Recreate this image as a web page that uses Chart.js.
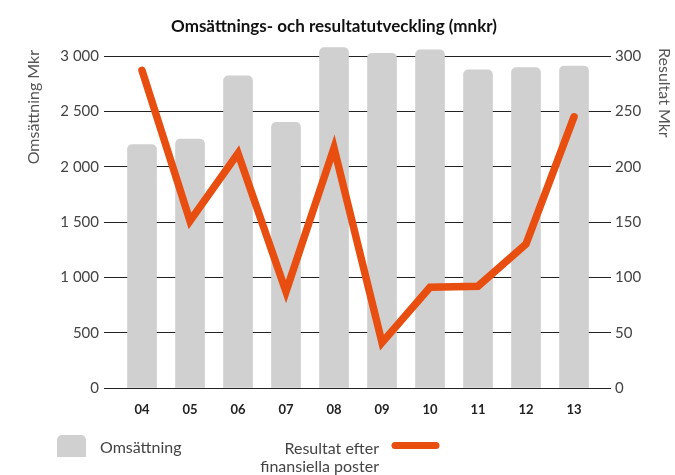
<!DOCTYPE html>
<html><head><meta charset="utf-8">
<script src="https://cdn.jsdelivr.net/npm/chart.js@4.4.1/dist/chart.umd.min.js"></script>
<style>html,body{margin:0;padding:0;background:#fff}#wrap{width:675px;height:475px;position:relative}</style>
</head><body><div id="wrap"><canvas id="c" width="675" height="475"></canvas></div>
<script>
const years = ['04','05','06','07','08','09','10','11','12','13'];
const omsattning = [2200, 2250, 2820, 2400, 3075, 3025, 3055, 2875, 2895, 2910];
const resultat = [287, 151, 212, 87, 217, 41, 91, 92, 130, 245];
const leftTicks = [0, 500, 1000, 1500, 2000, 2500, 3000];
const rightTicks = [0, 50, 100, 150, 200, 250, 300];
const chartTitle = 'Omsättnings- och resultatutveckling (mnkr)';
const leftTitle = 'Omsättning Mkr';
const rightTitle = 'Resultat Mkr';
const legendBar = 'Omsättning';
const legendLine = ['Resultat efter', 'finansiella poster'];

const BAR = '#d0d0d0', LINE = '#e84e10', GRID = '#222', TXT = '#444';
const FONT = 'Lato, "Open Sans", sans-serif';

function fmt(v){ return v >= 1000 ? Math.floor(v/1000) + ' ' + String(v % 1000).padStart(3,'0') : String(v); }

const deco = {
  id: 'deco',
  afterDraw(chart){
    const ctx = chart.ctx;
    ctx.save();
    ctx.fillStyle = '#111';
    ctx.font = 'bold 17px ' + FONT;
    ctx.textAlign = 'center'; ctx.textBaseline = 'middle';
    ctx.fillText(chartTitle, 334, 27);
    ctx.fillStyle = '#555';
    ctx.font = '16px ' + FONT;
    ctx.save(); ctx.translate(34, 50); ctx.rotate(-Math.PI/2);
    ctx.textAlign = 'right'; ctx.fillText(leftTitle, 0, 0); ctx.restore();
    ctx.save(); ctx.translate(664, 48); ctx.rotate(Math.PI/2);
    ctx.textAlign = 'left'; ctx.fillText(rightTitle, 0, 0); ctx.restore();
    // legend
    ctx.fillStyle = BAR;
    ctx.beginPath();
    ctx.roundRect(57, 435, 29, 22, [5,5,0,0]);
    ctx.fill();
    ctx.fillStyle = TXT;
    ctx.font = '16px ' + FONT;
    ctx.textAlign = 'left'; ctx.textBaseline = 'alphabetic';
    ctx.fillText(legendBar, 100, 453);
    ctx.textAlign = 'right';
    ctx.fillText(legendLine[0], 379, 454);
    ctx.fillText(legendLine[1], 379, 472);
    ctx.strokeStyle = LINE; ctx.lineWidth = 7; ctx.lineCap = 'round';
    ctx.beginPath(); ctx.moveTo(395, 445.5); ctx.lineTo(436, 445.5); ctx.stroke();
    ctx.restore();
  }
};

new Chart(document.getElementById('c'), {
  data: {
    labels: years,
    datasets: [
      { type: 'line', label: 'Resultat efter finansiella poster', data: resultat, yAxisID: 'y1',
        borderColor: LINE, borderWidth: 7.5, pointRadius: 0, tension: 0, clip: false,
        borderCapStyle: 'round', borderJoinStyle: 'miter', order: 1 },
      { type: 'bar', label: 'Omsättning', data: omsattning, yAxisID: 'y', clip: false,
        backgroundColor: BAR, barThickness: 29,
        borderRadius: {topLeft: 5, topRight: 5, bottomLeft: 0, bottomRight: 0}, borderSkipped: 'bottom', order: 2 }
    ]
  },
  options: {
    responsive: false, animation: false, devicePixelRatio: 1,
    layout: { padding: { top: 56, left: 0, right: 0, bottom: 0 } },
    plugins: { legend: { display: false }, title: { display: false }, tooltip: { enabled: false } },
    scales: {
      x: { type: 'category', offset: true,
        grid: { display: false }, border: { display: false },
        ticks: { font: { family: FONT, size: 13, weight: 'bold' }, color: '#222', padding: 6, maxRotation: 0 },
        afterFit(s){ s.height = 87; } },
      y: { position: 'left', min: 0, max: 3000,
        afterBuildTicks(s){ s.ticks = leftTicks.map(v => ({value: v})); },
        ticks: { font: { family: FONT, size: 15 }, color: TXT, padding: 5, callback: v => fmt(v) },
        grid: { color: GRID, lineWidth: 1, tickLength: 14, drawTicks: true },
        border: { display: false },
        afterFit(s){ s.width = 118; } },
      y1: { position: 'right', min: 0, max: 300,
        afterBuildTicks(s){ s.ticks = rightTicks.map(v => ({value: v})); },
        ticks: { font: { family: FONT, size: 15 }, color: TXT, padding: 4 },
        grid: { drawOnChartArea: false, color: GRID, lineWidth: 1, tickLength: 13, drawTicks: true },
        border: { display: false },
        afterFit(s){ s.width = 77; } }
    }
  },
  plugins: [deco]
});
</script></body></html>
